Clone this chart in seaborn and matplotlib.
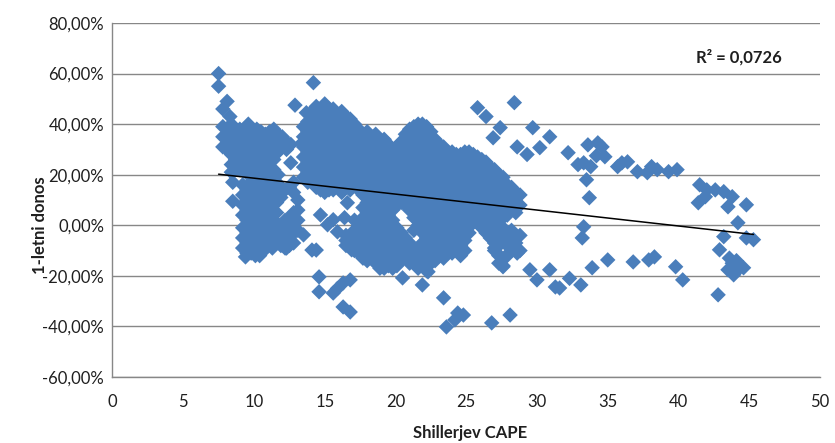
import matplotlib
matplotlib.use("Agg")
import matplotlib.pyplot as plt
from matplotlib.ticker import FuncFormatter
import seaborn as sns
import pandas as pd

# Shiller CAPE vs. one-year forward return (%), grouped by region of the cloud.
# Columns: (CAPE, [returns at that CAPE])
cluster_low_cape = [
    (7.8, [39, 35, 31]),
    (8.1, [38, 34, 30]),
    (8.4, [40, 36, 32, 28, 24, 21]),
    (8.7, [38, 34, 30, 26, 22]),
    (9.0, [38, 34, 30, 26, 22]),
    (9.3, [38, 34, 30, 26, 22]),
    (9.6, [40, 36, 32, 28, 24, 20]),
    (9.9, [38, 34, 30, 26, 22]),
    (10.2, [38, 35, 30, 26, 22, 18]),
    (10.5, [37, 33, 29, 25, 21]),
    (10.8, [36, 32, 28, 24, 20]),
    (11.1, [37, 34, 30, 26, 22, 18]),
    (11.4, [38, 34, 30, 26, 22, 18]),
    (11.7, [36, 33, 29, 20]),
    (12.0, [35, 31]),
    (12.3, [33, 30]),
    (12.6, [32, 24.7]),
    (9.2, [16, 12, 8, 4, -1, -5, -9]),
    (9.5, [14, 10, 6, 2, -3, -7, -11]),
    (9.8, [17, 13, 9, 5, 1, -3, -7, -11]),
    (10.1, [15, 11, 7, 3, -1, -5, -9, -12]),
    (10.4, [15, 11, 7, 3, -1, -5, -9, -12]),
    (10.7, [17, 13, 9, 5, 1, -3, -7, -10]),
    (11.0, [16, 12, 8, 4, 0, -4, -8]),
    (11.3, [14, 10, 6, 2, -2, -6, -9]),
    (11.6, [17, 13, 9, 5, 1, -3, -7]),
    (11.9, [15, 11, 0, -4, -8]),
    (12.2, [14, 2, -2, -6, -9]),
    (12.5, [15, 3, -1, -5, -8]),
    (12.8, [17, 13, 5, 1, -3, -7]),
    (13.1, [10, 6, 2, -2]),
]

cluster_mid_cape = [
    (13.5, [39, 35, 31, 27, 23, 19]),
    (13.8, [41, 37, 33, 29, 25, 21, 17]),
    (14.1, [45, 41, 37, 33, 29, 25, 21, 17]),
    (14.4, [47, 43, 39, 35, 31, 27, 23, 19, 15]),
    (14.7, [46, 42, 38, 34, 30, 26, 22, 18, 14]),
    (15.0, [48, 44, 40, 36, 32, 28, 24, 20, 16, 13]),
    (15.3, [46, 42, 38, 34, 30, 26, 22, 18, 14]),
    (15.6, [46, 42, 38, 34, 30, 26, 22, 18, 14]),
    (15.9, [44, 40, 36, 32, 28, 24, 20, 16]),
    (16.2, [45, 41, 37, 33, 29, 25, 21, 17, 13]),
    (16.5, [43, 39, 35, 31, 27, 23, 19, 15, -4, -8]),
    (16.8, [42, 38, 34, 30, 26, 22, 18, 14]),
    (17.1, [40, 36, 32, 28, 24, 20, 16, 2, -2, -6, -10]),
    (17.4, [38, 34, 30, 26, 22, 18, 14, 0, -4, -8, -11]),
    (17.7, [36, 32, 28, 24, 20, 16, 12, 7, 3, -1, -5, -9, -13]),
    (18.0, [37, 33, 29, 25, 21, 17, 13, 9, 5, 1, -3, -7, -11, -14]),
    (18.3, [35, 31, 27, 23, 19, 15, 11, 7, 3, -1, -5, -9, -13]),
    (18.6, [36, 32, 28, 24, 20, 16, 12, 8, 4, 0, -4, -8, -12, -15]),
    (18.9, [33, 30, 26, 22, 18, 14, 10, 6, 2, -2, -6, -10, -14, -17]),
    (19.2, [34, 30, 26, 22, 18, 14, 10, 6, 2, -2, -6, -10, -14, -17]),
    (19.5, [32, 28, 24, 20, 16, 12, 8, 4, 0, -4, -8, -12, -16]),
    (19.8, [30, 26, 22, 18, 14, 10, 6, 2, -2, -6, -10, -14, -17]),
    (20.1, [31, 27, 23, 19, 15, 11, 8, -1, -5, -9, -13, -16]),
    (20.4, [33, 29, 25, 21, 17, 13, 9, -3, -7, -11, -14]),
    (20.7, [36, 32, 28, 24, 20, 16, 12, 8, -5, -9, -13]),
    (21.0, [38, 34, 30, 26, 22, 18, 14, 10, 6, -7, -11, -15]),
    (21.3, [39, 35, 31, 27, 23, 19, 15, 11, 7, 3, -2, -11, -15]),
    (21.6, [40, 36, 32, 28, 24, 20, 16, 12, 8, 4, 0, -9, -13, -17]),
    (21.9, [40, 37, 33, 29, 25, 21, 17, 13, 9, 5, 1, -3, -7, -11, -15]),
    (22.2, [39, 35, 31, 27, 23, 19, 15, 11, 7, 3, -1, -5, -9, -13, -18]),
    (22.5, [37, 33, 29, 25, 21, 17, 13, 9, 5, 1, -3, -7, -11, -15]),
    (22.8, [34, 30, 26, 22, 18, 14, 10, 6, 2, -2, -6, -10, -14]),
    (23.1, [32, 28, 24, 20, 16, 12, 8, 4, 0, -4, -8, -12]),
    (23.4, [31, 27, 23, 19, 15, 11, 7, 3, -1, -5, -9, -13]),
    (23.7, [29, 25, 21, 17, 13, 9, 5, 1, -3, -7, -11]),
    (24.0, [29, 25, 21, 17, 13, 9, 5, 1, -3, -7, -11]),
    (24.3, [28, 23, 19, 15, 11, 7, 3, -1, -5, -9]),
    (24.6, [28, 24, 20, 16, 12, 8, 4, 0, -4, -8, -12]),
    (24.9, [29, 26, 22, 18, 14, 10, 6, 2, -2, -6, -10]),
    (25.2, [29, 25, 21, 17, 13, 9, 5, 1, -3]),
    (25.5, [28, 25, 21, 17, 13, 9, 5, 1]),
    (25.8, [27, 23, 19, 15, 11, 7, 3]),
    (26.1, [26, 22, 18, 14, 10, 6, 2, -1]),
    (26.4, [25, 21, 17, 13, 9, 5, 1, -3]),
    (26.7, [23, 19, 15, 11, 7, 3, -1, -5]),
    (27.0, [22, 18, 14, 10, 6, 1, -3, -7, -10]),
    (27.3, [20, 16, 12, 8, 4, 0, -4, -8, -12, -15]),
    (27.6, [19, 15, 11, 7, 3, -1, -5, -13, -16]),
    (27.9, [16, 12, 8, 4, -4, -8, -12]),
    (28.2, [15, 11, 7, -2, -6, -10]),
    (28.5, [13, 9, 5, -7]),
    (28.8, [12, 8, -4, -10]),
]

# Isolated observations (CAPE, return %)
scattered_points = [
    (7.5, 60), (7.5, 55), (8.1, 49), (7.8, 46), (8.3, 43), (8.5, 17), (8.5, 9.5),
    (13.4, 32.6), (9.4, -12.5), (13.5, -3.8), (14.1, -9.8), (14.4, -9.8), (12.3, -9),
    (12.9, 47.5), (13.7, 44.5), (14.2, 56.4),
    (14.7, 4.1), (15.2, 0.2), (15.9, -2.6), (16.6, 8.9), (16.4, 3), (15.6, 2.2),
    (16.5, -6), (16.9, -9.7),
    (25.8, 46.5), (26.4, 43), (27.4, 38.6), (26.9, 34.6), (28.4, 48.5), (29.7, 38.6),
    (30.9, 35), (28.6, 31), (29.3, 28), (30.2, 30.7), (32.2, 28.7), (32.9, 24),
    (27.0, -9), (27.6, -16.4), (28.3, -5.7), (28.6, -11), (29.5, -17.6), (30.0, -21.6),
    (30.9, -17.6), (31.3, -24.4), (32.3, -21), (31.6, -24.8), (33.1, -23.6),
    (28.1, -35.5), (26.8, -38.6), (23.4, -28.7), (24.4, -34.7), (24.8, -35.5),
    (23.6, -40.2), (24.2, -37.4), (20.5, -20.8), (21.9, -23.6), (22.3, -18.4),
    (14.6, -20.4), (14.6, -26.3), (15.6, -26.8), (15.9, -25), (16.3, -22.8),
    (16.8, -21.6), (16.3, -32.3), (16.8, -34.3),
    (33.6, 31.8), (34.3, 32.6), (34.6, 31), (34.8, 27.1), (34.2, 27.5), (33.3, 24.7),
    (33.8, 23.2), (35.7, 23.2), (36.0, 24.7), (36.4, 25.1), (37.1, 21.2), (38.1, 23.2),
    (38.5, 22), (37.8, 20.8), (39.3, 21.2), (39.9, 22), (33.5, 18), (33.7, 10.9),
    (41.5, 16), (42.0, 14), (42.6, 14), (43.2, 13.3), (43.8, 11.3), (41.4, 8.9),
    (43.5, 7.3), (44.8, 8.1), (41.9, 11.3),
    (33.3, -0.6), (33.2, -5), (33.9, -16.8), (35.0, -13.7), (36.8, -14.5),
    (37.9, -13.7), (38.3, -12.5), (39.8, -16.4), (40.3, -21.6), (44.2, 1),
    (43.2, -4.5), (42.9, -9.7), (44.8, -5), (45.3, -5.7), (43.8, -15), (44.2, -17.6),
    (43.9, -19.6), (44.6, -16.8), (43.5, -17.6), (42.8, -27.5), (43.6, -13),
    (44.1, -14),
]

r2_label = "R² = 0,0726"
y_ticks = [-60, -40, -20, 0, 20, 40, 60, 80]
x_ticks = [0, 5, 10, 15, 20, 25, 30, 35, 40, 45, 50]

rows = []
for group in (cluster_low_cape, cluster_mid_cape):
    for cape, returns in group:
        for r in returns:
            rows.append((cape, r))
rows.extend(scattered_points)
df = pd.DataFrame(rows, columns=["cape", "donos"])

sns.set_theme(style="white")
plt.rcParams["font.family"] = ["Lato", "DejaVu Sans"]

text_color = "#1f1f1f"
grid_color = "#878787"
blue = "#4A7EBB"

fig = plt.figure(figsize=(8.35, 4.43), dpi=100)
ax = fig.add_axes([0.1347, 0.1490, 0.8473, 0.7991])

sns.scatterplot(data=df, x="cape", y="donos", marker="D", s=62,
                color=blue, edgecolor="none", linewidth=0, ax=ax, zorder=3)
sns.regplot(data=df, x="cape", y="donos", scatter=False, ci=None,
            truncate=True, line_kws={"color": "black", "lw": 1.1, "zorder": 4},
            ax=ax)

ax.set_xlim(0, 50)
ax.set_ylim(-60, 80)
ax.set_xticks(x_ticks)
ax.set_yticks(y_ticks)
ax.yaxis.set_major_formatter(
    FuncFormatter(lambda v, _: f"{v:.2f}%".replace(".", ",")))
ax.tick_params(axis="both", length=0, labelsize=12, colors=text_color)
ax.tick_params(axis="y", pad=6)
ax.tick_params(axis="x", pad=12)

ax.grid(axis="y", color=grid_color, lw=1)
ax.set_axisbelow(True)
for side in ("top", "right"):
    ax.spines[side].set_visible(False)
for side in ("left", "bottom"):
    ax.spines[side].set_color(grid_color)
    ax.spines[side].set_linewidth(1)

ax.set_xlabel("Shillerjev CAPE", fontsize=12, fontweight="bold", color=text_color)
ax.set_ylabel("1-letni donos", fontsize=12, fontweight="bold", color=text_color)
ax.xaxis.label.set_va("center")
ax.yaxis.label.set_va("center")
ax.xaxis.set_label_coords(0.505, -0.158)
ax.yaxis.set_label_coords(-0.1025, 0.43)

ax.text(44.3, 66.3, r2_label, ha="center", va="center", fontsize=12,
        fontweight="bold", color=text_color)

fig.savefig("out.png", dpi=100)
